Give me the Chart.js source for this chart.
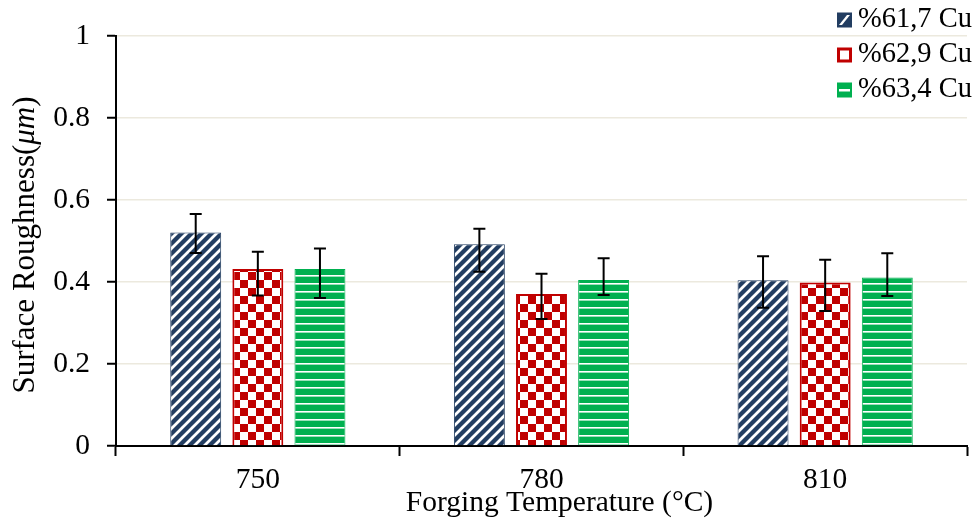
<!DOCTYPE html>
<html>
<head>
<meta charset="utf-8">
<script src="https://cdn.jsdelivr.net/npm/chart.js@4.4.1/dist/chart.umd.min.js"></script>
<style>
  html, body { margin: 0; padding: 0; background: #fff; }
  #wrap { width: 979px; height: 518px; }
</style>
</head>
<body>
<div id="wrap"><canvas id="roughChart" width="979" height="518"></canvas></div>
<script>
// Forging temperatures on the x axis
const categories = ['750', '780', '810'];
const seriesNames = ['%61,7 Cu', '%62,9 Cu', '%63,4 Cu'];

// Surface roughness (um)
const cu617 = [0.521, 0.492, 0.404];
const cu629 = [0.432, 0.371, 0.399];
const cu634 = [0.432, 0.405, 0.411];

// error bar ends (upper / lower)
const cu617Upper = [0.566, 0.530, 0.463];
const cu617Lower = [0.471, 0.425, 0.337];
const cu629Upper = [0.474, 0.420, 0.454];
const cu629Lower = [0.367, 0.310, 0.329];
const cu634Upper = [0.482, 0.458, 0.470];
const cu634Lower = [0.361, 0.368, 0.366];

const yTickLabels = ['0', '0.2', '0.4', '0.6', '0.8', '1'];
const xTitle = 'Forging Temperature (\u00b0C)';

const FONT = "'Liberation Serif', 'Times New Roman', serif";
const FS = 29.5;
const NAVY = '#223d61';
const RED = '#c00000';
const GREEN = '#00b050';

function makePattern(kind) {
    const c = document.createElement('canvas');
    const g = c.getContext('2d');
    if (kind === 'diag') {
        c.width = 10; c.height = 10;
        g.fillStyle = NAVY; g.fillRect(0, 0, 10, 10);
        g.strokeStyle = '#fff'; g.lineWidth = 2.8;
        g.beginPath();
        g.moveTo(-2, 12); g.lineTo(12, -2);
        g.moveTo(-2, 2); g.lineTo(2, -2);
        g.moveTo(8, 12); g.lineTo(12, 8);
        g.stroke();
    } else if (kind === 'check') {
        c.width = 16; c.height = 16;
        g.fillStyle = RED; g.fillRect(0, 0, 16, 16);
        g.fillStyle = '#fff';
        g.fillRect(0, 0, 8, 8); g.fillRect(8, 8, 8, 8);
    } else {
        c.width = 8; c.height = 8;
        g.fillStyle = GREEN; g.fillRect(0, 0, 8, 8);
        g.fillStyle = '#fff'; g.fillRect(0, 3, 8, 1.6);
    }
    return g.createPattern(c, 'repeat');
}

const errorEnds = [[cu617Upper, cu617Lower], [cu629Upper, cu629Lower], [cu634Upper, cu634Lower]];

// draws the black error bars on top of the bars
const errorBars = {
    id: 'errorBars',
    afterDatasetsDraw(chart) {
        const ctx = chart.ctx, y = chart.scales.y;
        ctx.save();
        ctx.strokeStyle = '#000';
        ctx.lineWidth = 2;
        chart.data.datasets.forEach((ds, i) => {
            chart.getDatasetMeta(i).data.forEach((bar, j) => {
                const top = y.getPixelForValue(errorEnds[i][0][j]);
                const bot = y.getPixelForValue(errorEnds[i][1][j]);
                ctx.beginPath();
                ctx.moveTo(bar.x, top); ctx.lineTo(bar.x, bot);
                ctx.moveTo(bar.x - 6, top); ctx.lineTo(bar.x + 6, top);
                ctx.moveTo(bar.x - 6, bot); ctx.lineTo(bar.x + 6, bot);
                ctx.stroke();
            });
        });
        ctx.restore();
    }
};

// axis titles (italic unit on y) and the legend in the top right corner
const extras = {
    id: 'extras',
    afterDraw(chart) {
        const ctx = chart.ctx, area = chart.chartArea;
        ctx.save();
        ctx.fillStyle = '#000';
        ctx.textBaseline = 'middle';
        // x axis title, sits a bit right of centre like the original
        ctx.font = FS + 'px ' + FONT;
        ctx.textAlign = 'center';
        ctx.fillText(xTitle, (area.left + area.right) / 2 + 18, area.bottom + 57);
        ctx.textAlign = 'left';
        // y axis title
        ctx.translate(26, (area.top + area.bottom) / 2 + 4);
        ctx.rotate(-Math.PI / 2);
        const parts = [['Surface Roughness(', ''], ['\u03bcm', 'italic '], [')', '']];
        let total = 0;
        parts.forEach(p => { ctx.font = p[1] + '31px ' + FONT; total += ctx.measureText(p[0]).width; });
        let x = -total / 2;
        parts.forEach(p => {
            ctx.font = p[1] + '31px ' + FONT;
            ctx.fillText(p[0], x, 0);
            x += ctx.measureText(p[0]).width;
        });
        ctx.restore();

        // legend
        ctx.save();
        ctx.font = '28.5px ' + FONT;
        ctx.textBaseline = 'middle';
        chart.data.datasets.forEach((ds, i) => {
            const cy = 20 + i * 35, bx = 837, s = 15;
            ctx.fillStyle = ds.borderColor;
            ctx.fillRect(bx, cy - s / 2, s, s);
            ctx.fillStyle = '#fff';
            if (i === 0) {
                ctx.beginPath();
                ctx.moveTo(bx + 2, cy + 5); ctx.lineTo(bx + 10, cy - 5);
                ctx.lineTo(bx + 13, cy - 5); ctx.lineTo(bx + 5, cy + 5);
                ctx.closePath(); ctx.fill();
            } else if (i === 1) {
                ctx.fillRect(bx + 3, cy - 4.5, s - 6, 9);
            } else {
                ctx.fillRect(bx + 2, cy - 1, s - 4, 2.5);
            }
            ctx.fillStyle = '#000';
            ctx.fillText(ds.label, 858, cy);
        });
        ctx.restore();
    }
};

const ctx = document.getElementById('roughChart').getContext('2d');
new Chart(ctx, {
    type: 'bar',
    data: {
        labels: categories,
        datasets: [
            { label: seriesNames[0], data: cu617, backgroundColor: makePattern('diag'), borderColor: NAVY, borderWidth: 1 },
            { label: seriesNames[1], data: cu629, backgroundColor: makePattern('check'), borderColor: RED, borderWidth: 2 },
            { label: seriesNames[2], data: cu634, backgroundColor: makePattern('lines'), borderColor: GREEN, borderWidth: 1 }
        ]
    },
    options: {
        responsive: false,
        animation: false,
        devicePixelRatio: 1,
        layout: { padding: { top: 36, right: 12, left: 0, bottom: 0 } },
        datasets: { bar: { categoryPercentage: 0.657, barPercentage: 0.82 } },
        plugins: { legend: { display: false }, tooltip: { enabled: false } },
        scales: {
            x: {
                afterFit: s => { s.height = 72; },
                ticks: { font: { family: FONT, size: FS }, color: '#000', padding: 7 },
                grid: { drawOnChartArea: false, offset: true, tickColor: '#000', tickLength: 10, tickWidth: 2 },
                border: { color: '#000', width: 2 }
            },
            y: {
                min: 0, max: 1,
                afterFit: s => { s.width = 116; },
                ticks: { stepSize: 0.2, font: { family: FONT, size: FS }, color: '#000', padding: 17,
                         callback: (v, i) => yTickLabels[i] },
                grid: { color: c => c.tick && c.tick.value === 0 ? 'rgba(0,0,0,0)' : '#ece9de', lineWidth: 1.5,
                        tickColor: '#000', tickLength: 9, tickWidth: 2 },
                border: { color: '#000', width: 2 }
            }
        }
    },
    plugins: [errorBars, extras]
});
</script>
</body>
</html>
